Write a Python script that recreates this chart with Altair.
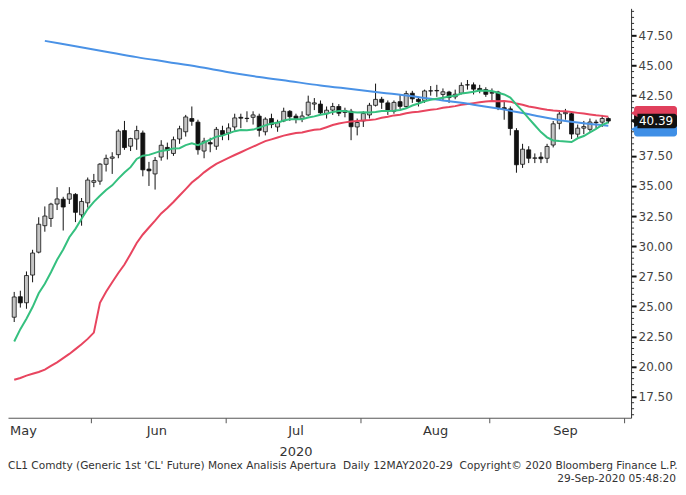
import altair as alt
import pandas as pd

# ---------------- data ----------------
dates = ["12May","13May","14May","15May","18May","19May","20May","21May","22May","26May",
         "27May","28May","29May","01Jun","02Jun","03Jun","04Jun","05Jun","08Jun","09Jun",
         "10Jun","11Jun","12Jun","15Jun","16Jun","17Jun","18Jun","19Jun","22Jun","23Jun",
         "24Jun","25Jun","26Jun","29Jun","30Jun","01Jul","02Jul","06Jul","07Jul","08Jul",
         "09Jul","10Jul","13Jul","14Jul","15Jul","16Jul","17Jul","20Jul","21Jul","22Jul",
         "23Jul","24Jul","27Jul","28Jul","29Jul","30Jul","31Jul","03Aug","04Aug","05Aug",
         "06Aug","07Aug","10Aug","11Aug","12Aug","13Aug","14Aug","17Aug","18Aug","19Aug",
         "20Aug","21Aug","24Aug","25Aug","26Aug","27Aug","28Aug","31Aug","01Sep","02Sep",
         "03Sep","04Sep","08Sep","09Sep","10Sep","11Sep","14Sep","15Sep","16Sep","17Sep",
         "18Sep","21Sep","22Sep","23Sep","24Sep","25Sep","28Sep","29Sep"]

opens = [24.1,25.8,25.3,27.6,29.5,31.7,32.3,33.5,33.9,33.9,
         34.3,32.6,33.6,35.3,35.4,36.8,37.3,37.6,39.6,38.3,
         38.9,39.4,36.4,36.0,37.4,38.2,37.7,38.9,39.5,40.6,
         40.3,37.9,38.6,38.3,39.6,39.4,39.9,40.7,40.6,40.7,
         40.8,39.5,40.6,39.9,40.4,41.2,40.8,40.6,40.9,41.8,
         41.8,41.0,41.3,41.6,41.1,41.2,39.9,40.4,40.9,41.7,
         42.2,41.9,41.2,42.0,41.6,42.7,42.2,42.1,42.9,42.9,
         42.6,42.8,42.4,42.7,43.4,43.4,43.1,43.0,42.7,42.8,
         41.5,41.4,39.6,36.8,38.0,37.3,37.4,37.3,38.4,40.2,
         41.0,41.0,39.3,39.8,39.7,40.3,40.3,40.6]
highs = [26.2,26.3,27.9,29.7,32.4,33.3,33.6,34.9,34.1,34.9,
         34.4,34.0,35.7,36.0,36.9,37.6,37.8,39.7,40.4,39.0,
         40.0,39.6,37.0,37.4,38.8,38.6,39.1,40.0,40.9,41.6,
         40.5,39.0,39.0,39.9,40.0,40.2,41.0,41.0,41.2,41.2,
         41.0,40.7,41.0,40.5,41.5,41.3,41.0,41.2,42.5,42.3,
         42.1,41.6,41.9,41.8,41.5,41.4,40.6,41.2,41.9,43.5,
         42.4,42.1,42.1,42.6,42.9,42.9,42.4,43.0,43.3,43.4,
         43.1,42.9,43.0,43.6,43.8,43.6,43.4,43.2,43.1,42.9,
         42.0,41.6,39.8,38.5,38.3,37.7,37.8,38.5,40.4,41.3,
         41.4,41.1,40.1,40.4,40.6,40.5,40.9,40.7]
lows = [23.7,24.9,24.8,27.0,29.4,31.2,31.6,33.0,31.3,33.5,
        32.0,31.7,33.2,34.9,35.1,36.2,36.0,37.3,38.0,37.9,
        38.0,35.8,35.0,34.7,37.1,37.2,37.5,38.5,39.1,40.0,
        37.6,37.3,37.8,38.0,38.8,38.8,39.6,39.8,40.3,40.1,
        39.1,39.2,39.8,39.5,40.3,40.4,40.2,40.3,40.8,41.3,
        40.9,40.6,40.9,40.8,40.7,38.8,39.2,39.9,40.6,41.6,
        41.4,40.9,41.0,41.4,41.5,41.9,41.6,41.9,42.5,42.4,
        42.1,41.9,42.2,42.6,43.0,42.6,42.7,42.4,42.1,41.3,
        40.5,39.2,36.1,36.5,36.9,36.9,36.9,36.9,38.2,39.7,
        40.5,38.9,39.0,39.3,39.5,39.8,39.9,40.2]
closes = [25.78,25.29,27.56,29.43,31.82,32.50,33.49,33.92,33.25,34.35,
          32.81,33.71,35.49,35.44,36.81,37.29,37.41,39.55,38.19,38.94,
          39.60,36.34,36.26,37.12,38.38,37.96,38.84,39.75,40.73,40.37,
          38.01,38.72,38.49,39.70,39.27,39.82,40.65,40.63,40.62,40.90,
          39.62,40.55,40.10,40.29,41.20,40.75,40.59,40.81,41.96,41.90,
          41.07,41.29,41.60,41.04,41.27,39.92,40.27,41.01,41.70,42.19,
          41.95,41.22,41.94,41.61,42.67,42.24,42.01,42.89,42.89,42.93,
          42.82,42.34,42.62,43.35,43.39,43.04,42.97,42.61,42.76,41.51,
          41.37,39.77,36.76,38.05,37.30,37.33,37.26,38.28,40.16,40.97,
          41.11,39.31,39.80,39.93,40.31,40.25,40.60,40.39]

# green moving average
ma_green = [22.08,23.11,23.98,24.94,26.09,26.88,27.83,28.87,29.72,30.74,
            31.44,32.28,33.08,33.68,34.18,34.66,35.05,35.61,36.11,36.56,
            37.24,37.51,37.58,37.75,37.91,37.98,38.12,38.14,38.39,38.54,
            38.38,38.61,38.84,39.10,39.18,39.37,39.55,39.64,39.63,39.68,
            39.84,40.03,40.19,40.25,40.44,40.53,40.53,40.54,40.68,40.78,
            40.92,41.00,41.15,41.22,41.23,41.15,41.11,41.13,41.11,41.14,
            41.22,41.22,41.25,41.31,41.45,41.68,41.85,42.04,42.16,42.24,
            42.32,42.43,42.50,42.68,42.75,42.83,42.92,42.90,42.88,42.74,
            42.60,42.34,41.75,41.22,40.61,40.04,39.47,39.04,38.78,38.73,
            38.70,38.65,38.96,39.15,39.45,39.74,40.07,40.28]
# red moving average
ma_red = [18.90,19.05,19.25,19.40,19.55,19.75,20.05,20.35,20.70,21.05,
          21.45,21.85,22.30,22.82,25.30,26.21,27.00,27.77,28.48,29.35,
          30.26,30.97,31.55,32.12,32.72,33.17,33.67,34.21,34.74,35.28,
          35.69,36.13,36.50,36.84,37.09,37.33,37.57,37.80,38.04,38.26,
          38.49,38.72,38.87,39.03,39.18,39.29,39.40,39.44,39.57,39.66,
          39.71,39.88,40.06,40.19,40.28,40.35,40.40,40.44,40.47,40.53,
          40.66,40.75,40.86,40.92,41.04,41.12,41.16,41.24,41.32,41.38,
          41.49,41.55,41.63,41.74,41.81,41.88,41.96,42.02,42.05,42.04,
          42.05,42.00,41.84,41.74,41.60,41.52,41.42,41.33,41.27,41.23,
          41.21,41.14,41.07,41.01,40.94,40.87,40.82,40.74]
# blue moving average (read at sample days)
blue_idx = [5,10,15,20,25,30,35,40,45,50,55,60,65,70,75,80,85,90,95,97]
blue_val = [47.05,46.60,46.15,45.70,45.30,44.90,44.45,44.05,43.70,43.35,
            43.05,42.75,42.45,42.10,41.75,41.35,40.85,40.40,40.10,40.00]

month_names = ["May", "Jun", "Jul", "Aug", "Sep"]
month_label_pos = [1.5, 23.3, 46.0, 68.8, 90.0]
month_bounds = [12.5, 34.5, 56.5, 77.5, 99.5]
y_ticks = [17.5, 20.0, 22.5, 25.0, 27.5, 30.0, 32.5, 35.0, 37.5, 42.5, 45.0, 47.5]
last_label_vals = [41.05, 39.70, 40.39]
last_label_cols = ["#e0405c", "#3f8fe6", "#111111"]
last_label_txt = ["", "", "40.39"]

NB = "\u00a0"
footer1 = ("CL1 Comdty (Generic 1st 'CL' Future) Monex Analisis Apertura" + NB + NB +
           "Daily 12MAY2020-29" + NB + NB + "Copyright\u00a9 2020 Bloomberg Finance L.P.")
footer2 = "29-Sep-2020 05:48:20"

# ---------------- chart ----------------
W, H = 624, 410
FONT = "DejaVu Sans"

candles = pd.DataFrame({"idx": list(range(len(dates))), "date": dates,
                        "open": opens, "high": highs, "low": lows, "close": closes})
green_df = pd.DataFrame({"idx": list(range(len(ma_green))), "v": ma_green})
red_df = pd.DataFrame({"idx": list(range(len(ma_red))), "v": ma_red})
blue_df = pd.DataFrame({"idx": blue_idx, "v": blue_val})
month_df = pd.DataFrame({"pos": month_label_pos, "name": month_names})
minor_vals = [16.0 + 0.5 * k for k in range(68) if (16.0 + 0.5 * k) % 2.5 != 0]
minor_df = pd.DataFrame({"v": minor_vals})
lab_df = pd.DataFrame({"v": last_label_vals, "col": last_label_cols, "txt": last_label_txt})
lab_df["lo"] = lab_df["v"] - 0.6
lab_df["hi"] = lab_df["v"] + 0.6

xscale = alt.Scale(domain=[-0.2, 99.9], nice=False, zero=False)
yscale = alt.Scale(domain=[15.75, 49.75], nice=False, zero=False)
xaxis = alt.Axis(values=month_bounds, labels=False, title=None, grid=False,
                 tickSize=5, tickColor="#555", domainColor="#555", ticks=True)
yaxis = alt.Axis(orient="right", values=y_ticks, format=".2f", title=None, grid=False,
                 tickSize=5, tickWidth=2, tickColor="#111", domainColor="#333",
                 labelFont=FONT, labelFontSize=12, labelColor="#444", labelPadding=2)


def X(field="idx"):
    return alt.X(f"{field}:Q", scale=xscale, axis=xaxis)


def Y(field):
    return alt.Y(f"{field}:Q", scale=yscale, axis=yaxis)


base = alt.Chart(candles)
wicks = base.mark_rule(color="#111", strokeWidth=1).encode(x=X(), y=Y("low"), y2="high")
bodies = base.mark_bar(size=4, stroke="#111", strokeWidth=0.8).encode(
    x=X(), y=Y("open"), y2="close",
    fill=alt.condition("datum.close >= datum.open", alt.value("#c4c4c4"), alt.value("#111111")))

red_line = alt.Chart(red_df).mark_line(color="#e8455f", strokeWidth=2).encode(x=X(), y=Y("v"))
blue_line = alt.Chart(blue_df).mark_line(color="#4a92e6", strokeWidth=2,
                                         interpolate="monotone").encode(x=X(), y=Y("v"))
green_line = alt.Chart(green_df).mark_line(color="#35c07f", strokeWidth=2).encode(x=X(), y=Y("v"))

minor = alt.Chart(minor_df).mark_rule(color="#333", strokeWidth=1).encode(
    y=Y("v"), x=alt.value(W), x2=alt.value(W + 3))

lab_rect = alt.Chart(lab_df).mark_rect(cornerRadius=3).encode(
    y=Y("lo"), y2="hi", x=alt.value(W + 3), x2=alt.value(W + 46),
    color=alt.Color("col:N", scale=None))
lab_tip = alt.Chart(lab_df).mark_point(shape="triangle-left", filled=True, size=60, opacity=1).encode(
    y=Y("v"), x=alt.value(W + 3), color=alt.Color("col:N", scale=None))
lab_text = alt.Chart(lab_df).mark_text(font=FONT, fontSize=12, color="white", align="center").encode(
    y=Y("v"), x=alt.value(W + 25), text="txt:N")

months = alt.Chart(month_df).mark_text(font=FONT, fontSize=13, color="#333", baseline="middle").encode(
    x=X("pos"), y=alt.value(H + 13), text="name:N")
year = alt.Chart(month_df).transform_filter("datum.name == 'Jul'").mark_text(
    font=FONT, fontSize=13, color="#333", baseline="middle", text="2020").encode(
    x=X("pos"), y=alt.value(H + 34))
foot1 = alt.Chart(month_df).transform_filter("datum.name == 'May'").mark_text(
    font=FONT, fontSize=10.6, color="#333", align="left", baseline="middle", text=footer1).encode(
    x=alt.value(0), y=alt.value(H + 48))
foot2 = alt.Chart(month_df).transform_filter("datum.name == 'May'").mark_text(
    font=FONT, fontSize=10.6, color="#333", align="right", baseline="middle", text=footer2).encode(
    x=alt.value(W + 45), y=alt.value(H + 61))

chart = alt.layer(
    wicks, bodies, red_line, blue_line, green_line, minor,
    lab_rect, lab_tip, lab_text, months, year, foot1, foot2
).properties(width=W, height=H, padding=0, background="white").configure_view(stroke=None)

chart.save("out.html", embed_options={"renderer": "svg", "actions": False})
